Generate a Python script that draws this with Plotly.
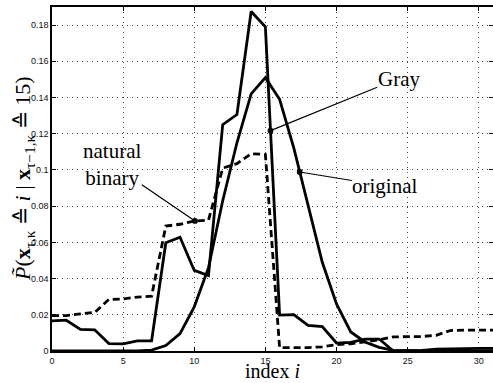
import numpy as np
import plotly.graph_objects as go

# ---------------- data ----------------
index = list(range(32))

gray = [0.0166, 0.0170, 0.0119, 0.0117, 0.0041, 0.0039, 0.0056, 0.0056,
        0.0598, 0.0628, 0.0445, 0.0416, 0.1250, 0.1306, 0.1875, 0.1790,
        0.0198, 0.0201, 0.0142, 0.0135, 0.0044, 0.0048, 0.0066, 0.0066,
        0.0000, 0.0000, 0.0003, 0.0010, 0.0013, 0.0014, 0.0015, 0.0015]

original = [0.0, 0.0, 0.0, 0.0, 0.0, 0.0, 0.0, 0.0005,
            0.0030, 0.0096, 0.0244, 0.0460, 0.0830, 0.1150, 0.1420, 0.1510,
            0.1390, 0.1120, 0.0800, 0.0490, 0.0260, 0.0105, 0.0050, 0.0020,
            0.0003, 0.0, 0.0, 0.0, 0.0, 0.0, 0.0, 0.0]

natural_binary = [0.0195, 0.0195, 0.0205, 0.0213, 0.0285, 0.0287, 0.0298, 0.0303,
                  0.0690, 0.0700, 0.0718, 0.0722, 0.1010, 0.1035, 0.1090, 0.1085,
                  0.0018, 0.0018, 0.0019, 0.0023, 0.0035, 0.0040, 0.0050, 0.0062,
                  0.0078, 0.0078, 0.0080, 0.0087, 0.0113, 0.0115, 0.0115, 0.0115]

x_ticks = [0, 5, 10, 15, 20, 25, 30]
y_ticks = [0, 0.02, 0.04, 0.06, 0.08, 0.10, 0.12, 0.14, 0.16, 0.18]

# label text, text anchor (x, y) and the index where the leader touches the curve
labels = ["Gray", "original", "natural<br>binary"]
label_xy = [(24.37, 0.1505), (23.40, 0.0912), (4.24, 0.1030)]
label_hit = [15.36, 17.41, 10.05]
label_series = [gray, original, natural_binary]

# ---------------- figure ----------------
fig = go.Figure()
line_w = 2.8
fig.add_trace(go.Scatter(x=index, y=natural_binary, mode="lines",
                         line=dict(color="black", width=line_w, dash="7px,4px"),
                         showlegend=False))
fig.add_trace(go.Scatter(x=index, y=original, mode="lines",
                         line=dict(color="black", width=line_w),
                         showlegend=False))
fig.add_trace(go.Scatter(x=index, y=gray, mode="lines",
                         line=dict(color="black", width=line_w),
                         showlegend=False))

serif = "Liberation Serif, Times New Roman, serif"
for txt, (tx, ty), hx, ser in zip(labels, label_xy, label_hit, label_series):
    hy = float(np.interp(hx, index, ser))
    fig.add_annotation(x=hx, y=hy, xref="x", yref="y",
                       ax=tx, ay=ty, axref="x", ayref="y",
                       text=txt, showarrow=True,
                       arrowhead=6, arrowsize=1.2, arrowwidth=1.2,
                       arrowcolor="black", standoff=0, startstandoff=0,
                       font=dict(family=serif, size=21, color="black"),
                       align="center", borderpad=0)

# y-axis title as rotated annotation
fig.add_annotation(xref="paper", yref="paper", x=0, y=0.5,
                   xanchor="center", yanchor="middle", xshift=-28,
                   textangle=-90, showarrow=False,
                   text="<i>P̃</i>(<b>x</b><sub>τ,κ</sub> ≙ <i>i</i> | <b>x</b><sub>τ−1,κ</sub> ≙ 15)",
                   font=dict(family=serif, size=22, color="black"))

# x-axis title as annotation, anchored at the bottom of the figure
fig.add_annotation(xref="paper", yref="paper", x=0.5, y=0,
                   xanchor="center", yanchor="bottom", yshift=-32,
                   showarrow=False, text="index <i>i</i>",
                   font=dict(family=serif, size=20, color="black"),
                   borderpad=0)

tickfont = dict(family="Liberation Sans, Arial, sans-serif", size=9, color="#111")
axis_common = dict(showline=True, linecolor="black", linewidth=1.5, mirror="allticks",
                   ticks="inside", ticklen=4, tickcolor="black", tickwidth=1,
                   showgrid=True, gridcolor="#444", griddash="1px,4px", gridwidth=1,
                   zeroline=False, tickfont=tickfont)

fig.update_xaxes(range=[0, 31], tickvals=x_ticks,
                 ticktext=[str(v) for v in x_ticks],
                 **axis_common)
fig.update_yaxes(range=[0, 0.19], tickvals=y_ticks,
                 ticktext=[("%g" % v) for v in y_ticks],
                 **axis_common)

fig.update_layout(width=493, height=383,
                  margin=dict(l=52, r=0, t=7, b=32, autoexpand=False),
                  plot_bgcolor="white", paper_bgcolor="white",
                  font=dict(family="Liberation Sans, Arial, sans-serif"))
fig.update_xaxes(automargin=False)
fig.update_yaxes(automargin=False)

fig.write_html("out.html",
               config={"displayModeBar": False},
               post_script="document.body.style.margin='0';document.body.style.overflow='hidden';")
